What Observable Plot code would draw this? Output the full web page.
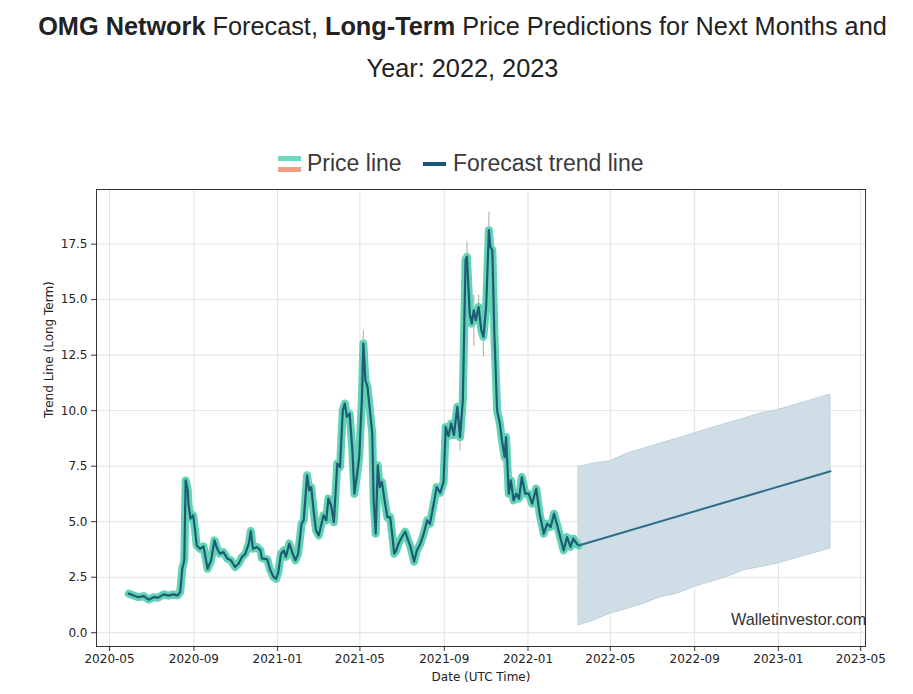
<!DOCTYPE html>
<html><head><meta charset="utf-8">
<script src="https://cdn.jsdelivr.net/npm/d3@7"></script>
<script src="https://cdn.jsdelivr.net/npm/@observablehq/plot@0.6"></script>
<style>
body{margin:0;background:#fff;width:913px;height:694px;position:relative;overflow:hidden;font-family:"Liberation Sans",Arial,sans-serif;}
#title{position:absolute;left:6px;top:5px;width:913px;text-align:center;font-size:25.3px;line-height:42px;color:#222;}
#title b{font-weight:bold;}
.lg{position:absolute;}
.lgtext{position:absolute;top:149px;font-size:23px;line-height:28px;color:#3a3a3a;white-space:nowrap;}
#chart{position:absolute;left:0;top:180px;}
#wm{position:absolute;left:731px;top:610px;font-size:16.2px;line-height:19px;color:#333;white-space:nowrap;}
</style></head>
<body>
<div id="title"><b>OMG Network</b> Forecast, <b>Long-Term</b> Price Predictions for Next Months and<br>Year: 2022, 2023</div>
<div class="lg" style="left:278px;top:156px;width:23px;height:5px;background:#6fd8bd"></div>
<div class="lg" style="left:278px;top:167px;width:23px;height:5px;background:#f49b84"></div>
<div class="lgtext" style="left:307px">Price line</div>
<div class="lg" style="left:423px;top:162px;width:23px;height:4px;background:#1a5878"></div>
<div class="lgtext" style="left:453px">Forecast trend line</div>
<div id="chart"></div>
<div id="wm">Walletinvestor.com</div>
<script>
const priceDates = ["2020-05-29","2020-06-05","2020-06-12","2020-06-20","2020-06-27","2020-07-04","2020-07-11","2020-07-19","2020-07-26","2020-08-02","2020-08-08","2020-08-12","2020-08-15","2020-08-18","2020-08-20","2020-08-23","2020-08-24","2020-08-27","2020-08-31","2020-09-03","2020-09-05","2020-09-10","2020-09-15","2020-09-21","2020-09-26","2020-10-01","2020-10-05","2020-10-09","2020-10-14","2020-10-20","2020-10-25","2020-10-31","2020-11-05","2020-11-10","2020-11-15","2020-11-20","2020-11-23","2020-11-26","2020-12-02","2020-12-07","2020-12-09","2020-12-17","2020-12-21","2020-12-26","2020-12-30","2021-01-02","2021-01-06","2021-01-10","2021-01-13","2021-01-18","2021-01-23","2021-01-27","2021-01-31","2021-02-05","2021-02-08","2021-02-13","2021-02-16","2021-02-19","2021-02-23","2021-02-26","2021-03-02","2021-03-06","2021-03-09","2021-03-13","2021-03-16","2021-03-20","2021-03-24","2021-03-29","2021-04-02","2021-04-06","2021-04-09","2021-04-12","2021-04-16","2021-04-20","2021-04-23","2021-04-27","2021-04-30","2021-05-04","2021-05-06","2021-05-09","2021-05-12","2021-05-16","2021-05-19","2021-05-21","2021-05-24","2021-05-27","2021-05-30","2021-06-02","2021-06-06","2021-06-10","2021-06-14","2021-06-17","2021-06-20","2021-06-23","2021-06-26","2021-07-01","2021-07-06","2021-07-11","2021-07-14","2021-07-19","2021-07-23","2021-07-28","2021-08-02","2021-08-07","2021-08-11","2021-08-15","2021-08-21","2021-08-26","2021-08-31","2021-09-03","2021-09-07","2021-09-11","2021-09-15","2021-09-20","2021-09-24","2021-09-28","2021-10-02","2021-10-04","2021-10-08","2021-10-11","2021-10-14","2021-10-17","2021-10-21","2021-10-25","2021-10-28","2021-11-01","2021-11-05","2021-11-07","2021-11-10","2021-11-13","2021-11-17","2021-11-21","2021-11-24","2021-11-28","2021-11-30","2021-12-04","2021-12-07","2021-12-11","2021-12-15","2021-12-19","2021-12-23","2021-12-28","2022-01-02","2022-01-07","2022-01-13","2022-01-18","2022-01-24","2022-01-29","2022-02-03","2022-02-08","2022-02-12","2022-02-17","2022-02-22","2022-02-27","2022-03-04","2022-03-08","2022-03-13","2022-03-16"];
const priceValues = [1.76,1.68,1.60,1.65,1.49,1.60,1.58,1.73,1.67,1.73,1.68,1.83,2.88,3.26,6.86,6.41,5.80,5.14,5.29,4.53,3.93,3.78,3.89,2.88,3.26,4.16,3.78,3.56,3.63,3.33,3.26,2.96,3.11,3.41,3.56,4.01,4.58,3.78,3.86,3.71,3.35,3.30,2.85,2.51,2.43,2.73,3.56,3.71,3.41,4.01,3.56,3.26,3.56,4.91,5.06,7.09,6.41,6.56,5.36,4.61,4.38,4.91,5.29,5.06,6.04,5.74,4.98,7.62,7.46,10.02,10.32,9.72,9.87,8.22,6.26,7.17,7.91,10.62,13.02,11.37,11.07,9.87,8.97,5.96,4.46,7.54,6.56,6.79,5.96,5.20,5.21,4.46,3.56,3.71,4.00,4.30,4.55,4.10,3.85,3.20,3.70,4.00,4.46,5.06,4.90,5.55,6.56,6.30,6.80,9.27,8.85,9.42,8.90,10.17,8.81,10.50,16.78,16.93,14.38,13.92,14.52,14.07,14.67,13.62,13.32,14.67,18.13,17.38,17.23,13.47,10.00,9.42,8.67,7.91,8.81,6.26,6.86,5.96,6.26,6.04,7.01,6.26,6.26,5.81,6.49,5.36,4.46,4.91,4.76,5.36,4.91,4.31,3.71,4.31,3.86,4.24,4.01,3.93];

const wickDates = ["2021-05-06","2021-09-24","2021-10-04","2021-10-14","2021-10-21","2021-10-28","2021-11-05"];
const wickLow = [12.5,8.2,16.0,12.9,13.9,12.4,17.5];
const wickHigh = [13.6,9.0,17.6,15.2,15.2,13.6,18.95];

const forecastDates = ["2022-03-16","2023-03-18"];
const forecastValues = [3.93,7.27];

const bandDates = ["2022-03-16","2022-04-07","2022-05-01","2022-05-26","2022-06-19","2022-07-13","2022-08-07","2022-08-31","2022-09-24","2022-10-18","2022-11-12","2022-12-06","2022-12-30","2023-02-02","2023-03-18"];
const bandUpper = [7.46,7.62,7.72,8.07,8.29,8.52,8.74,8.97,9.20,9.42,9.64,9.87,10.02,10.32,10.73];
const bandLower = [0.33,0.55,0.86,1.08,1.31,1.60,1.76,2.06,2.28,2.51,2.81,2.96,3.11,3.41,3.79];

const xTickDates = ["2020-05-01","2020-09-01","2021-01-01","2021-05-01","2021-09-01","2022-01-01","2022-05-01","2022-09-01","2023-01-01","2023-05-01"];
const yTickValues = [0,2.5,5,7.5,10,12.5,15,17.5];

const price = priceDates.map((d,i)=>({date:new Date(d), value:priceValues[i]}));
const wicks = wickDates.map((d,i)=>({date:new Date(d), low:wickLow[i], high:wickHigh[i]}));
const forecast = forecastDates.map((d,i)=>({date:new Date(d), value:forecastValues[i]}));
const band = bandDates.map((d,i)=>({date:new Date(d), upper:bandUpper[i], lower:bandLower[i]}));
const xTicks = xTickDates.map(d=>new Date(d));

const chart = Plot.plot({
  width: 913, height: 514,
  marginLeft: 96, marginRight: 48, marginTop: 9, marginBottom: 48,
  x: {type: "utc", domain: [new Date("2020-04-12"), new Date("2023-05-08")], label: null},
  y: {domain: [-0.62, 19.96], label: null},
  style: {fontFamily: "DejaVu Sans, sans-serif", fontSize: "12px", color: "#222", background: "#fff"},
  marks: [
    Plot.gridX(xTicks, {stroke: "#e2e2e2", strokeOpacity: 1, strokeWidth: 1}),
    Plot.gridY(yTickValues, {stroke: "#e2e2e2", strokeOpacity: 1, strokeWidth: 1}),
    Plot.areaY(band, {x: "date", y1: "lower", y2: "upper", fill: "#cfdee6", stroke: "#bfd1db", strokeWidth: 1}),
    Plot.ruleX(wicks, {x: "date", y1: "low", y2: "high", stroke: "#b8b8b8", strokeWidth: 1.2}),
    Plot.line(price, {x: "date", y: "value", stroke: "#62d3b5", strokeWidth: 8, strokeLinejoin: "round", strokeLinecap: "round"}),
    Plot.line(price, {x: "date", y: "value", stroke: "#1d5c74", strokeWidth: 2.2, strokeLinejoin: "round"}),
    Plot.line(forecast, {x: "date", y: "value", stroke: "#2f6d8a", strokeWidth: 2}),
    Plot.frame({stroke: "#333", strokeWidth: 1}),
    Plot.axisX(xTicks, {tickFormat: d3.utcFormat("%Y-%m"), tickSize: 5, tickPadding: 3, stroke: "#333", label: null, fontSize: 12}),
    Plot.axisY(yTickValues, {tickFormat: d => d.toFixed(1), tickSize: 5, tickPadding: 4, stroke: "#333", label: null, fontSize: 12}),
    Plot.text(["Date (UTC Time)"], {frameAnchor: "bottom", dy: 34, fontSize: 12, fill: "#222"}),
    Plot.text(["Trend Line (Long Term)"], {frameAnchor: "left", dx: -47, rotate: -90, fontSize: 12, fill: "#222"})
  ]
});
document.getElementById("chart").appendChild(chart);
</script>
</body></html>
